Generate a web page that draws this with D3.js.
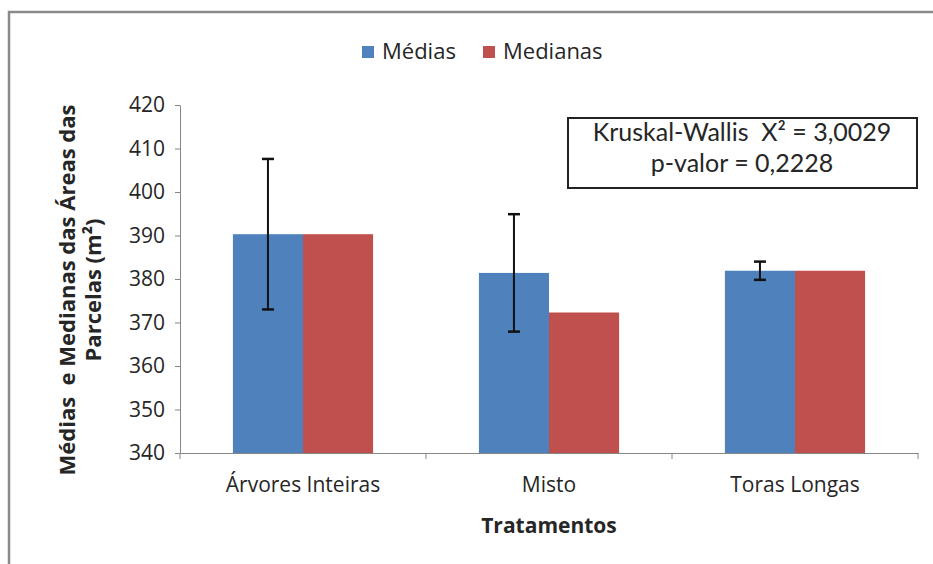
<!DOCTYPE html>
<html>
<head>
<meta charset="utf-8">
<script src="https://cdn.jsdelivr.net/npm/d3@7"></script>
<style>
    body { margin: 0; background: #fff; }
    svg text { font-family: "Open Sans", "Noto Sans", sans-serif; fill: #262626; white-space: pre; }
    svg text.stat { font-family: Lato, "Open Sans", sans-serif; }
</style>
</head>
<body>
<script>
// chart data
var categories = ['Árvores Inteiras', 'Misto', 'Toras Longas'];
var seriesNames = ['Médias', 'Medianas'];
var medias = [390.3, 381.4, 381.9];
var medianas = [390.3, 372.3, 381.9];
var errMedias = [17.3, 13.5, 2.1];
var yTicks = [340, 350, 360, 370, 380, 390, 400, 410, 420];
var statLines = ['Kruskal-Wallis  X² = 3,0029', 'p-valor = 0,2228'];

function drawChart(){
    var width = 933,
        height = 564;
    var colors = ['#4F81BD', '#C0504D'];
    var margin = {left: 180, right: 15, top: 105, bottom: 111};

    var svg = d3.select('body')
        .append('svg')
        .attr('width', width)
        .attr('height', height);

    //outer frame, only top and left visible
    svg.append('rect')
        .attr('x', 9)
        .attr('y', 12)
        .attr('width', 940)
        .attr('height', 580)
        .attr('fill', 'none')
        .attr('stroke', '#8a8a8a')
        .attr('stroke-width', 2.5);

    var x0 = d3.scaleBand()
        .domain(categories)
        .range([margin.left, width - margin.right]);
    var x1 = d3.scaleBand()
        .domain(seriesNames)
        .range([0, x0.bandwidth()])
        .paddingOuter(0.755);
    var y = d3.scaleLinear()
        .domain([340, 420])
        .range([height - margin.bottom, margin.top]);

    //bars
    var rows = categories.map(function(c, i){
        return {cat: c, vals: [medias[i], medianas[i]], err: errMedias[i]};
    });
    var groups = svg.selectAll('.grp')
        .data(rows)
        .enter()
        .append('g')
        .attr('class', 'grp')
        .attr('transform', function(d){ return 'translate(' + x0(d.cat) + ',0)'; });
    groups.selectAll('rect')
        .data(function(d){ return d.vals.map(function(v, k){ return {name: seriesNames[k], v: v, k: k}; }); })
        .enter()
        .append('rect')
        .attr('x', function(d){ return x1(d.name); })
        .attr('y', function(d){ return y(d.v); })
        .attr('width', x1.bandwidth())
        .attr('height', function(d){ return y(340) - y(d.v); })
        .attr('fill', function(d){ return colors[d.k]; });

    //error bars on the means
    var ex = x1('Médias') + x1.bandwidth() / 2;
    groups.append('line')
        .attr('x1', ex).attr('x2', ex)
        .attr('y1', function(d){ return y(d.vals[0] + d.err); })
        .attr('y2', function(d){ return y(d.vals[0] - d.err); })
        .attr('stroke', '#111').attr('stroke-width', 2);
    [1, -1].forEach(function(s){
        groups.append('line')
            .attr('x1', ex - 6).attr('x2', ex + 6)
            .attr('y1', function(d){ return y(d.vals[0] + s * d.err); })
            .attr('y2', function(d){ return y(d.vals[0] + s * d.err); })
            .attr('stroke', '#111').attr('stroke-width', 2.5);
    });

    //y axis
    var yAxis = svg.append('g')
        .attr('transform', 'translate(' + margin.left + ',0)')
        .call(d3.axisLeft(y).tickValues(yTicks).tickSize(5).tickSizeOuter(0).tickPadding(10));
    //x axis with ticks at category boundaries
    var bounds = categories.map(function(c){ return x0(c); }).concat([width - margin.right]);
    var xAxis = svg.append('g')
        .attr('transform', 'translate(0,' + y(340) + ')')
        .call(d3.axisBottom(x0).tickSize(0).tickSizeOuter(0).tickPadding(24));
    xAxis.selectAll('.bound')
        .data(bounds)
        .enter()
        .append('line')
        .attr('x1', function(d){ return d; })
        .attr('x2', function(d){ return d; })
        .attr('y1', 0).attr('y2', 6)
        .attr('stroke', '#868686');
    [yAxis, xAxis].forEach(function(a){
        a.selectAll('path, line').attr('stroke', '#868686');
        a.selectAll('text').style('font-size', '21px').attr('fill', '#333');
    });

    //axis titles
    svg.append('text')
        .attr('x', x0.range()[0] + (x0.range()[1] - x0.range()[0]) / 2)
        .attr('y', 533)
        .attr('text-anchor', 'middle')
        .style('font-size', '21px')
        .style('font-weight', 'bold')
        .text('Tratamentos');
    var yt = svg.append('text')
        .attr('transform', 'translate(75,290) rotate(-90)')
        .attr('text-anchor', 'middle')
        .style('font-size', '22px')
        .style('font-weight', 'bold');
    yt.append('tspan').attr('x', 0).attr('dy', 0).text('Médias  e Medianas das Áreas das');
    yt.append('tspan').attr('x', 0).attr('dy', 26).text('Parcelas (m²)');

    //legend
    var legX = [362, 483];
    seriesNames.forEach(function(n, k){
        svg.append('rect')
            .attr('x', legX[k]).attr('y', 46)
            .attr('width', 12).attr('height', 12)
            .attr('fill', colors[k]);
        svg.append('text')
            .attr('x', legX[k] + 20).attr('y', 59)
            .style('font-size', '22px')
            .text(n);
    });

    //statistics box
    svg.append('rect')
        .attr('x', 568).attr('y', 118)
        .attr('width', 349).attr('height', 70)
        .attr('fill', '#fff')
        .attr('stroke', '#222')
        .attr('stroke-width', 2);
    svg.selectAll('.stat')
        .data(statLines)
        .enter()
        .append('text')
        .attr('class', 'stat')
        .attr('x', 742)
        .attr('y', function(d, i){ return 141 + i * 30.5; })
        .attr('text-anchor', 'middle')
        .style('font-size', '25px')
        .text(function(d){ return d; });
}

window.onload = drawChart;
</script>
</body>
</html>
